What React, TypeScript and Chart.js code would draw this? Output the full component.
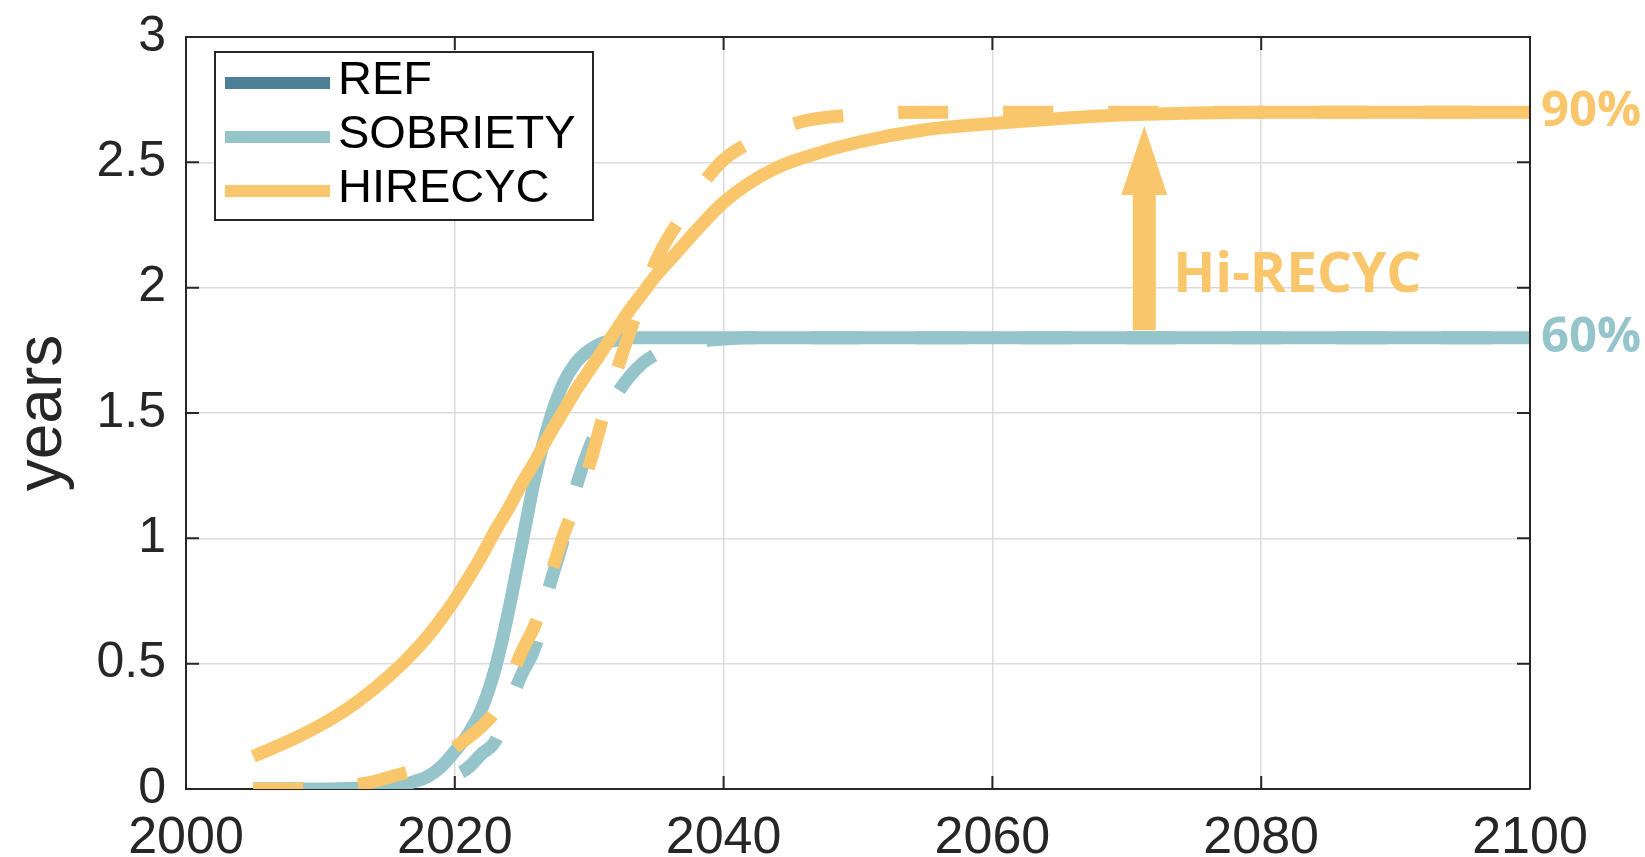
import React, { useEffect, useRef } from 'react';
import { Chart, registerables } from 'chart.js';

Chart.register(...registerables);

// ---------- data ----------
const years = [2005, 2008, 2010, 2012, 2014, 2016, 2017, 2018, 2019, 2020, 2021, 2022, 2023, 2024, 2025, 2026, 2027, 2028, 2029, 2030, 2031, 2032, 2033, 2034, 2035, 2036, 2037, 2038, 2040, 2042, 2044, 2046, 2050, 2055, 2060, 2065, 2070, 2080, 2090, 2100];

const refValues = [0, 0, 0, 0.002, 0.006, 0.015, 0.03, 0.05, 0.09, 0.15, 0.22, 0.32, 0.48, 0.71, 0.98, 1.25, 1.46, 1.61, 1.7, 1.75, 1.78, 1.79, 1.8, 1.8, 1.8, 1.8, 1.8, 1.8, 1.8, 1.8, 1.8, 1.8, 1.8, 1.8, 1.8, 1.8, 1.8, 1.8, 1.8, 1.8];

const sobrietyValues = [0, 0, 0, 0.002, 0.006, 0.015, 0.03, 0.05, 0.09, 0.15, 0.22, 0.32, 0.48, 0.71, 0.98, 1.25, 1.46, 1.61, 1.7, 1.75, 1.78, 1.79, 1.8, 1.8, 1.8, 1.8, 1.8, 1.8, 1.8, 1.8, 1.8, 1.8, 1.8, 1.8, 1.8, 1.8, 1.8, 1.8, 1.8, 1.8];

const hirecycValues = [0.13, 0.2, 0.255, 0.32, 0.4, 0.495, 0.55, 0.61, 0.68, 0.755, 0.84, 0.93, 1.03, 1.12, 1.22, 1.31, 1.41, 1.5, 1.59, 1.67, 1.75, 1.83, 1.91, 1.98, 2.05, 2.11, 2.17, 2.23, 2.34, 2.42, 2.48, 2.52, 2.58, 2.63, 2.655, 2.675, 2.69, 2.7, 2.7, 2.7];

const sobrietyDashedValues = [0, 0, 0, 0, 0, 0.01, 0.02, 0.03, 0.045, 0.055, 0.085, 0.14, 0.19, 0.33, 0.46, 0.57, 0.8, 0.98, 1.2, 1.36, 1.47, 1.57, 1.645, 1.7, 1.735, 1.76, 1.775, 1.785, 1.795, 1.8, 1.8, 1.8, 1.8, 1.8, 1.8, 1.8, 1.8, 1.8, 1.8, 1.8];

const hirecycDashedValues = [0, 0, 0.005, 0.012, 0.03, 0.06, 0.075, 0.095, 0.125, 0.165, 0.205, 0.25, 0.31, 0.42, 0.55, 0.66, 0.83, 1.0, 1.14, 1.29, 1.48, 1.66, 1.82, 1.97, 2.11, 2.21, 2.29, 2.38, 2.51, 2.58, 2.63, 2.665, 2.69, 2.7, 2.7, 2.7, 2.7, 2.7, 2.7, 2.7];

const xTicks = [2000, 2020, 2040, 2060, 2080, 2100];
const yTicks = [0, 0.5, 1, 1.5, 2, 2.5, 3];

const legendLabels = ['REF', 'SOBRIETY', 'HIRECYC'];
const endLabels = ['90%', '60%'];
const endLabelValues = [2.7, 1.8];
const arrowLabel = 'Hi-RECYC';
const arrowYear = 2071.3;
const arrowFrom = 1.83;
const arrowTo = 2.645;
const arrowLabelValue = 2.0;

// ---------- styles ----------
const REF_COLOR = '#4d7f97';
const TEAL = '#95c4cb';
const YELLOW = '#f9c66b';
const INK = '#262626';
const FONT = '"Liberation Sans", Arial, sans-serif';
const BOLD_FONT = '"Open Sans", "Noto Sans", sans-serif';

const toPoints = (vals: number[]) => years.map((x, i) => ({ x, y: vals[i] }));

const decorPlugin = {
  id: 'decor',
  afterDatasetsDraw(chart: any) {
    const { ctx, chartArea, scales } = chart;
    const xs = scales.x;
    const ys = scales.y;
    ctx.save();

    // top and right frame
    ctx.strokeStyle = INK;
    ctx.lineWidth = 2;
    ctx.beginPath();
    ctx.moveTo(chartArea.left, chartArea.top);
    ctx.lineTo(chartArea.right, chartArea.top);
    ctx.lineTo(chartArea.right, chartArea.bottom);
    ctx.stroke();

    // inward tick marks
    const tl = 13;
    ctx.beginPath();
    xTicks.forEach((v) => {
      const px = xs.getPixelForValue(v);
      ctx.moveTo(px, chartArea.bottom);
      ctx.lineTo(px, chartArea.bottom - tl);
      ctx.moveTo(px, chartArea.top);
      ctx.lineTo(px, chartArea.top + tl);
    });
    yTicks.forEach((v) => {
      const py = ys.getPixelForValue(v);
      ctx.moveTo(chartArea.left, py);
      ctx.lineTo(chartArea.left + tl, py);
      ctx.moveTo(chartArea.right, py);
      ctx.lineTo(chartArea.right - tl, py);
    });
    ctx.stroke();

    // arrow
    const ax = xs.getPixelForValue(arrowYear);
    const yBase = ys.getPixelForValue(arrowFrom);
    const yTip = ys.getPixelForValue(arrowTo);
    const headH = 69;
    const headW = 46;
    const shaftW = 23;
    ctx.fillStyle = YELLOW;
    ctx.beginPath();
    ctx.moveTo(ax - shaftW / 2, yBase);
    ctx.lineTo(ax - shaftW / 2, yTip + headH);
    ctx.lineTo(ax - headW / 2, yTip + headH);
    ctx.lineTo(ax, yTip);
    ctx.lineTo(ax + headW / 2, yTip + headH);
    ctx.lineTo(ax + shaftW / 2, yTip + headH);
    ctx.lineTo(ax + shaftW / 2, yBase);
    ctx.closePath();
    ctx.fill();

    // arrow label
    ctx.font = `700 55px ${BOLD_FONT}`;
    ctx.textAlign = 'left';
    ctx.textBaseline = 'alphabetic';
    ctx.fillText(arrowLabel, ax + 29, ys.getPixelForValue(arrowLabelValue) + 4);

    // end labels
    const endColors = [YELLOW, TEAL];
    ctx.font = `700 49px ${BOLD_FONT}`;
    ctx.textBaseline = 'middle';
    endLabels.forEach((t, i) => {
      ctx.fillStyle = endColors[i];
      ctx.fillText(t, chartArea.right + 11, ys.getPixelForValue(endLabelValues[i]));
    });

    // legend
    const legendColors = [REF_COLOR, TEAL, YELLOW];
    const bx = chartArea.left + 29;
    const by = chartArea.top + 15;
    const bw = 378;
    const bh = 168;
    ctx.fillStyle = '#ffffff';
    ctx.fillRect(bx, by, bw, bh);
    ctx.strokeStyle = INK;
    ctx.lineWidth = 2;
    ctx.strokeRect(bx, by, bw, bh);
    const rows = [31, 85, 139];
    ctx.font = `47px ${FONT}`;
    ctx.textBaseline = 'middle';
    legendLabels.forEach((lab, i) => {
      const cy = by + rows[i];
      ctx.strokeStyle = legendColors[i];
      ctx.lineWidth = 12;
      ctx.lineCap = 'butt';
      ctx.beginPath();
      ctx.moveTo(bx + 10, cy);
      ctx.lineTo(bx + 115, cy);
      ctx.stroke();
      ctx.fillStyle = '#000000';
      ctx.fillText(lab, bx + 123, cy - 2);
    });

    ctx.restore();
  },
};

export default function App() {
  const canvasRef = useRef<HTMLCanvasElement | null>(null);

  useEffect(() => {
    document.body.style.margin = '0';
    const canvas = canvasRef.current;
    if (!canvas) return;
    const common = {
      pointRadius: 0,
      borderWidth: 13,
      borderCapStyle: 'butt',
      borderJoinStyle: 'round',
      cubicInterpolationMode: 'monotone',
      fill: false,
    };
    const chart = new Chart(canvas, {
      type: 'line',
      data: {
        datasets: [
          { ...common, label: legendLabels[2], data: toPoints(hirecycValues), borderColor: YELLOW, order: 0 },
          { ...common, label: legendLabels[2] + ' (dashed)', data: toPoints(hirecycDashedValues), borderColor: YELLOW, borderDash: [50, 55], order: 1 },
          { ...common, label: legendLabels[1], data: toPoints(sobrietyValues), borderColor: TEAL, order: 2 },
          { ...common, label: legendLabels[1] + ' (dashed)', data: toPoints(sobrietyDashedValues), borderColor: TEAL, borderDash: [50, 55], order: 3 },
          { ...common, label: legendLabels[0], data: toPoints(refValues), borderColor: REF_COLOR, order: 4, hidden: true },
        ],
      } as any,
      options: {
        responsive: false,
        animation: false,
        devicePixelRatio: 1,
        layout: { padding: { left: 0, top: 37, right: 115, bottom: 0 } },
        plugins: { legend: { display: false }, tooltip: { enabled: false } },
        scales: {
          x: {
            type: 'linear',
            min: 2000,
            max: 2100,
            afterBuildTicks: (s: any) => { s.ticks = xTicks.map((v) => ({ value: v })); },
            afterFit: (s: any) => { s.height = 68; s.paddingLeft = 0; s.paddingRight = 0; },
            ticks: {
              callback: (v: any) => String(v),
              font: { family: FONT, size: 52 },
              color: INK,
              padding: 18,
              maxRotation: 0,
            },
            grid: { color: '#dcdcdc', lineWidth: 1.5, drawTicks: false },
            border: { display: true, color: INK, width: 2 },
          },
          y: {
            type: 'linear',
            min: 0,
            max: 3,
            afterBuildTicks: (s: any) => { s.ticks = yTicks.map((v) => ({ value: v })); },
            afterFit: (s: any) => { s.width = 186; s.paddingTop = 0; s.paddingBottom = 0; },
            ticks: {
              callback: (v: any) => String(v),
              font: { family: FONT, size: 50 },
              color: INK,
              padding: 20,
            },
            title: {
              display: true,
              text: 'years',
              font: { family: FONT, size: 64, lineHeight: 1.1 },
              color: INK,
              padding: { top: 8, bottom: 0 },
            },
            grid: { color: '#dcdcdc', lineWidth: 1.5, drawTicks: false },
            border: { display: true, color: INK, width: 2 },
          },
        },
      } as any,
      plugins: [decorPlugin],
    });
    return () => chart.destroy();
  }, []);

  return (
    <div style={{ position: 'absolute', left: 0, top: 0, width: 1645, height: 857, background: '#ffffff' }}>
      <canvas ref={canvasRef} width={1645} height={857} />
    </div>
  );
}
